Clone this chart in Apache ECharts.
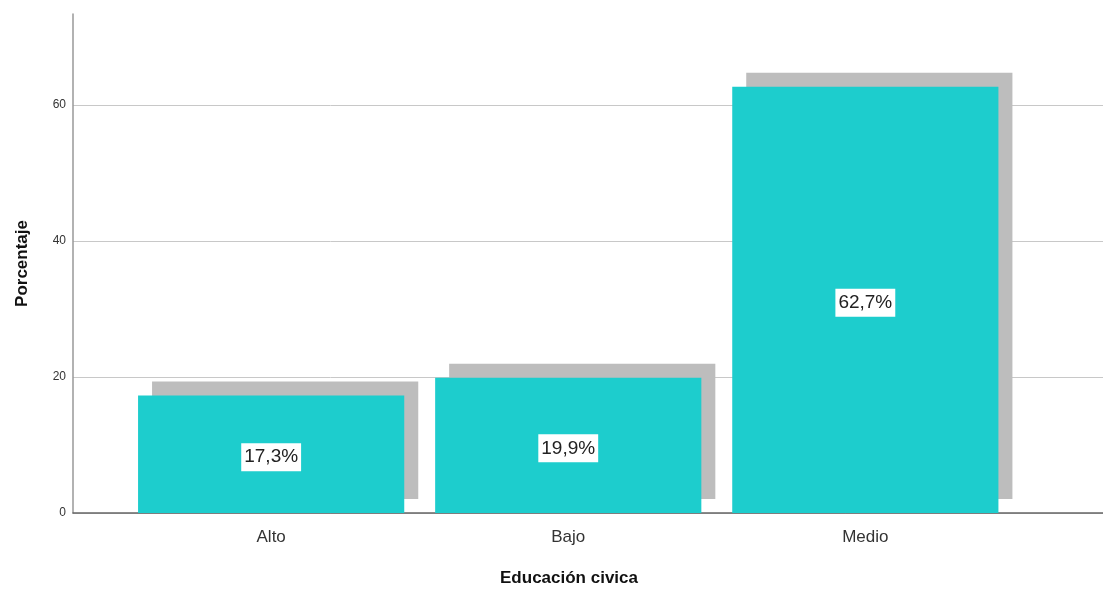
<!DOCTYPE html>
<html>
<head>
<meta charset="utf-8">
<script src="https://cdn.jsdelivr.net/npm/echarts@6/dist/echarts.min.js"></script>
<style>html,body{margin:0;padding:0;background:#fff;}#c{width:1103px;height:592px;}</style>
</head>
<body>
<div id="c"></div>
<script>
const categories = ['Alto', 'Bajo', 'Medio'];
const values = [17.3, 19.9, 62.7];
const yTicks = [0, 20, 40, 60];

const FONT = '"Liberation Sans", Arial, sans-serif';
const chart = echarts.init(document.getElementById('c'), null, {renderer: 'canvas'});
const data = values.map((v, i) => [i, v]);
const halfW = 0.448;
const shadowOff = 14;

chart.setOption({
  animation: false,
  backgroundColor: '#ffffff',
  grid: {left: 73, right: 0, top: 14, bottom: 75, containLabel: false},
  xAxis: {
    type: 'value',
    min: -0.667,
    max: 2.8,
    name: 'Educación civica',
    nameLocation: 'middle',
    nameGap: 57,
    nameTextStyle: {fontFamily: FONT, fontSize: 17, fontWeight: 'bold', color: '#111', padding: [0, 38, 0, 0]},
    axisLine: {show: true, onZero: false, lineStyle: {color: '#666', width: 1.5}},
    axisTick: {show: false},
    splitLine: {show: false},
    axisLabel: {
      customValues: categories.map((c, i) => i),
      formatter: v => categories[Math.round(v)],
      fontFamily: FONT, fontSize: 17, color: '#333', margin: 16
    }
  },
  yAxis: {
    type: 'value',
    min: 0,
    max: 73.4,
    name: 'Porcentaje',
    nameLocation: 'middle',
    nameGap: 42,
    nameTextStyle: {fontFamily: FONT, fontSize: 17, fontWeight: 'bold', color: '#111'},
    axisLine: {show: true, onZero: false, lineStyle: {color: '#999', width: 1.5}},
    axisTick: {show: false, customValues: yTicks},
    splitLine: {show: true, lineStyle: {color: '#c8c8c8', width: 1}},
    axisLabel: {customValues: yTicks, fontFamily: FONT, fontSize: 12, color: '#333', margin: 7}
  },
  series: [{
    type: 'custom',
    data: data,
    encode: {x: 0, y: 1},
    renderItem: function (params, api) {
      const x = api.value(0), y = api.value(1);
      const tl = api.coord([x - halfW, y]);
      const br = api.coord([x + halfW, 0]);
      const w = br[0] - tl[0], h = br[1] - tl[1];
      const label = y.toFixed(1).replace('.', ',') + '%';
      return {
        type: 'group',
        children: [
          {type: 'rect', shape: {x: tl[0] + shadowOff, y: tl[1] - shadowOff, width: w, height: h}, style: {fill: '#bdbdbd'}},
          {type: 'rect', shape: {x: tl[0], y: tl[1], width: w, height: h}, style: {fill: '#1dcdcd'}},
          {type: 'text', x: tl[0] + w / 2, y: tl[1] + h / 2 + 3,
           style: {text: label, fontFamily: FONT, fontSize: 19, fill: '#222', align: 'center', verticalAlign: 'middle',
                   backgroundColor: '#ffffff', padding: [5, 3, 4, 3]}}
        ]
      };
    }
  }]
});
</script>
</body>
</html>
